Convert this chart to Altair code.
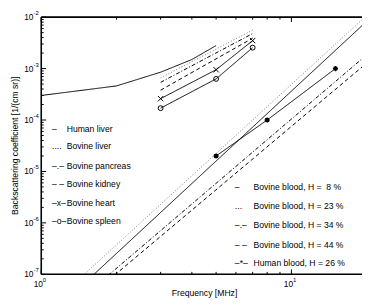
import altair as alt
import pandas as pd

W, H = 328, 263
FONT = "Liberation Sans"

# ---------------- data ----------------
human_liver_f = [1, 2, 3, 4, 5]
human_liver_v = [3.0e-4, 4.6e-4, 8.5e-4, 1.5e-3, 2.8e-3]
bovine_liver_f = [3, 7]
bovine_liver_v = [6.6e-4, 5.6e-3]
bovine_pancreas_f = [3, 7]
bovine_pancreas_v = [5.4e-4, 4.8e-3]
bovine_kidney_f = [3, 7]
bovine_kidney_v = [3.8e-4, 3.9e-3]
bovine_heart_f = [3, 5, 7]
bovine_heart_v = [2.6e-4, 9.5e-4, 3.5e-3]
bovine_spleen_f = [3, 5, 7]
bovine_spleen_v = [1.7e-4, 6.3e-4, 2.55e-3]
blood8_f = [1, 20]
blood8_v = [1.12e-8, 8.3e-3]
blood23_f = [1, 20]
blood23_v = [1.71e-8, 1.08e-2]
blood34_f = [1, 20]
blood34_v = [7.4e-9, 1.85e-3]
blood44_f = [1, 20]
blood44_v = [6.1e-9, 1.28e-3]
human_blood_f = [5, 8, 15]
human_blood_v = [2e-5, 1e-4, 1e-3]

series_names = ["Human liver", "Bovine liver", "Bovine pancreas", "Bovine kidney",
                "Bovine heart", "Bovine spleen", "Bovine blood, H = 8 %",
                "Bovine blood, H = 23 %", "Bovine blood, H = 34 %",
                "Bovine blood, H = 44 %", "Human blood, H = 26 %"]
series_f = [human_liver_f, bovine_liver_f, bovine_pancreas_f, bovine_kidney_f,
            bovine_heart_f, bovine_spleen_f, blood8_f, blood23_f, blood34_f,
            blood44_f, human_blood_f]
series_v = [human_liver_v, bovine_liver_v, bovine_pancreas_v, bovine_kidney_v,
            bovine_heart_v, bovine_spleen_v, blood8_v, blood23_v, blood34_v,
            blood44_v, human_blood_v]

left_legend_sym = ["\u2013", "....", "\u2013.\u2013", "\u2013 \u2013", "\u2013x\u2013", "\u2013o\u2013"]
left_legend_txt = ["Human liver", "Bovine liver", "Bovine pancreas", "Bovine kidney",
                   "Bovine heart", "Bovine spleen"]
right_legend_sym = ["\u2013", "...", "\u2013.\u2013", "\u2013 \u2013", "\u2013*\u2013"]
right_legend_txt = ["Bovine blood, H = \u00a08 %", "Bovine blood, H = 23 %",
                    "Bovine blood, H = 34 %", "Bovine blood, H = 44 %",
                    "Human blood, H = 26 %"]

y_ticks = [1e-7, 1e-6, 1e-5, 1e-4, 1e-3, 1e-2]
y_tick_exp = ["-7", "-6", "-5", "-4", "-3", "-2"]
x_ticks = [1, 10]
x_tick_exp = ["0", "1"]
y_minor = [k * 10.0 ** e for e in range(-7, -2) for k in range(2, 10)]
x_minor = [2, 3, 4, 5, 6, 7, 8, 9]

# ---------------- styles ----------------
dash_styles = [[1, 0], [1, 2], [4, 2, 1, 2], [4, 3], [1, 0], [1, 0],
               [1, 0], [1, 2], [4, 2, 1, 2], [4, 3], [1, 0]]
line_colors = ["black", "#777777", "black", "black", "black", "black",
               "black", "#777777", "black", "black", "black"]

rows = []
for name, fs, vs in zip(series_names, series_f, series_v):
    for i, (f, v) in enumerate(zip(fs, vs)):
        rows.append({"series": name, "f": f, "v": v, "order": i})
df = pd.DataFrame(rows)

xscale = alt.Scale(type="log", domain=[1, 19.15], nice=False)
yscale = alt.Scale(type="log", domain=[1e-7, 1e-2], nice=False)
X = alt.X("f:Q", scale=xscale, axis=None)
Y = alt.Y("v:Q", scale=yscale, axis=None)

lines = alt.Chart(df).mark_line(clip=True, strokeWidth=1).encode(
    x=X, y=Y, detail="series:N", order="order:Q",
    strokeDash=alt.StrokeDash("series:N", scale=alt.Scale(domain=series_names, range=dash_styles), legend=None),
    color=alt.Color("series:N", scale=alt.Scale(domain=series_names, range=line_colors), legend=None),
)

def pts(fs, vs, shape, size, filled=False, sw=1):
    d = pd.DataFrame({"f": fs, "v": vs})
    return alt.Chart(d).mark_point(shape=shape, size=size, filled=filled, color="black",
                                   strokeWidth=sw, opacity=1, clip=True).encode(x=X, y=Y)

heart_pts = pts(bovine_heart_f, bovine_heart_v, "M-1,-1L1,1M1,-1L-1,1", 30)
spleen_pts = pts(bovine_spleen_f, bovine_spleen_v, "circle", 25)
blood_pts = pts(human_blood_f, human_blood_v,
                "M-1,0L1,0M0,-1L0,1M-0.7,-0.7L0.7,0.7M-0.7,0.7L0.7,-0.7", 28, sw=1.4)

# ---------------- frame and ticks ----------------
one = pd.DataFrame({"a": [0]})
frame = []
frame.append(alt.Chart(one).mark_rule(color="black", strokeWidth=1.6).encode(
    x=alt.value(0), y=alt.value(0), y2=alt.value(H)))
frame.append(alt.Chart(one).mark_rule(color="black", strokeWidth=1.6).encode(
    x=alt.value(0), x2=alt.value(W + 2), y=alt.value(H)))
frame.append(alt.Chart(one).mark_rule(color="black", strokeWidth=1.6).encode(
    x=alt.value(0), x2=alt.value(W + 2), y=alt.value(0)))

ymaj = pd.DataFrame({"v": y_ticks, "e": y_tick_exp})
ymin = pd.DataFrame({"v": y_minor})
xmaj = pd.DataFrame({"f": x_ticks, "e": x_tick_exp})
xmin = pd.DataFrame({"f": x_minor})

ticks = [
    alt.Chart(ymaj).mark_rule(color="black", strokeWidth=1).encode(y=Y, x=alt.value(0), x2=alt.value(5)),
    alt.Chart(ymin).mark_rule(color="black", strokeWidth=1).encode(y=Y, x=alt.value(0), x2=alt.value(2.5)),
    alt.Chart(xmaj).mark_rule(color="black", strokeWidth=1).encode(x=X, y=alt.value(H), y2=alt.value(H - 5)),
    alt.Chart(xmin).mark_rule(color="black", strokeWidth=1).encode(x=X, y=alt.value(H), y2=alt.value(H - 2.5)),
    alt.Chart(xmaj).mark_rule(color="black", strokeWidth=1).encode(x=X, y=alt.value(0), y2=alt.value(5)),
    alt.Chart(xmin).mark_rule(color="black", strokeWidth=1).encode(x=X, y=alt.value(0), y2=alt.value(2.5)),
]

# tick labels
ylab = [
    alt.Chart(ymaj).mark_text(align="right", baseline="middle", font=FONT, fontSize=8.5, text="10").encode(
        y=Y, x=alt.value(-8)),
    alt.Chart(ymaj).mark_text(align="left", baseline="middle", font=FONT, fontSize=6, dy=-4).encode(
        y=Y, x=alt.value(-8), text="e:N"),
]
xlab = [
    alt.Chart(xmaj).mark_text(align="center", baseline="middle", font=FONT, fontSize=8.5, text="10", dx=-3).encode(
        x=X, y=alt.value(H + 10)),
    alt.Chart(xmaj).mark_text(align="left", baseline="middle", font=FONT, fontSize=6, dx=1.5, dy=-4).encode(
        x=X, y=alt.value(H + 10), text="e:N"),
]

# axis titles
titles = [
    alt.Chart(one).mark_text(font=FONT, fontSize=8.8, text="Frequency [MHz]", align="center",
                             baseline="middle").encode(x=alt.value(167), y=alt.value(H + 19)),
    alt.Chart(one).mark_text(font=FONT, fontSize=8.8, text="Backscattering coefficient [1/(cm sr)]",
                             align="center", baseline="middle", angle=270).encode(
        x=alt.value(-27), y=alt.value(H / 2)),
]

# legends (in-plot text)
leg = []
left_y = [114, 132, 152, 171, 190, 209]
for s, t, yy in zip(left_legend_sym, left_legend_txt, left_y):
    leg.append(alt.Chart(one).mark_text(font=FONT, fontSize=8.8, text=s, align="left", baseline="middle").encode(
        x=alt.value(11), y=alt.value(yy)))
    leg.append(alt.Chart(one).mark_text(font=FONT, fontSize=8.8, text=t, align="left", baseline="middle").encode(
        x=alt.value(26), y=alt.value(yy)))
right_y = [174, 193, 213, 233, 251]
for s, t, yy in zip(right_legend_sym, right_legend_txt, right_y):
    leg.append(alt.Chart(one).mark_text(font=FONT, fontSize=8.8, text=s, align="left", baseline="middle").encode(
        x=alt.value(198), y=alt.value(yy)))
    leg.append(alt.Chart(one).mark_text(font=FONT, fontSize=8.8, text=t, align="left", baseline="middle").encode(
        x=alt.value(217), y=alt.value(yy)))

chart = alt.layer(lines, heart_pts, spleen_pts, blood_pts, *frame, *ticks, *ylab, *xlab, *titles, *leg).resolve_scale(
    x="independent", y="independent"
).properties(
    width=W, height=H,
    autosize=alt.AutoSizeParams(type="none"),
    padding={"left": 34, "top": 6, "right": 0, "bottom": 27},
).configure_view(stroke=None)

chart.save("out.html", embed_options={"renderer": "svg", "actions": False})
